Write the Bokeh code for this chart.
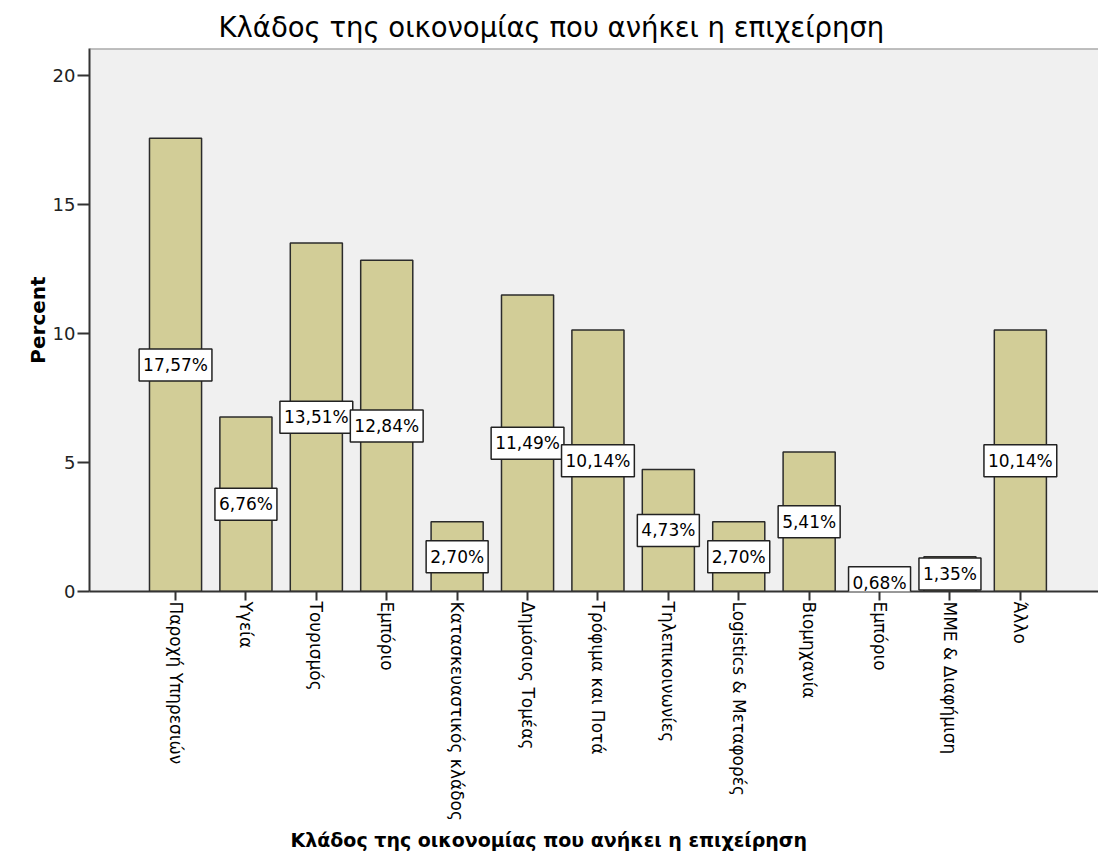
from bokeh.plotting import figure
from bokeh.models import Range1d, FixedTicker, Label, Title, Span
from bokeh.embed import file_html
from bokeh.resources import INLINE

# ---- data ----
categories = [
    "Παροχή Υπηρεσιών", "Υγεία", "Τουρισμός", "Εμπόριο",
    "Κατασκευαστικός κλάδος", "Δημόσιος Τομέας", "Τρόφιμα και Ποτά",
    "Τηλεπικοινωνίες", "Logistics & Μεταφορές", "Βιομηχανία",
    "Εμπόριο", "ΜΜΕ & Διαφήμιση", "Άλλο",
]
percents = [17.57, 6.76, 13.51, 12.84, 2.70, 11.49, 10.14, 4.73, 2.70, 5.41, 0.68, 1.35, 10.14]
y_ticks = [0, 5, 10, 15, 20]
title_text = "Κλάδος της οικονομίας που ανήκει η επιχείρηση"
y_title = "Percent"

positions = list(range(len(categories)))
y_top = 21.05

p = figure(width=1098, height=868, output_backend="svg", toolbar_location=None,
           x_range=Range1d(-1.222, 13.11), y_range=Range1d(0, y_top),
           min_border_left=89, min_border_right=0, min_border_top=48,
           min_border_bottom=277)

p.background_fill_color = "#f0f0f0"
p.border_fill_color = "white"
p.outline_line_color = None
p.grid.visible = False

p.vbar(x=positions, top=percents, width=0.74, bottom=0,
       fill_color="#d2cd97", line_color="#2b2b2b", line_width=1.5)

for xpos, v in zip(positions, percents):
    txt = f"{v:.2f}".replace(".", ",") + "%"
    p.add_layout(Label(x=xpos, y=v / 2, text=txt, text_align="center",
                       text_baseline="middle", text_font="DejaVu Sans",
                       text_font_size="17px", text_color="black",
                       background_fill_color="white",
                       border_line_color="#222222", border_line_width=1.5,
                       padding=(4, 6)))

p.add_layout(Span(location=y_top, dimension="width", line_color="#888888",
                  line_width=2))

# y axis
ya = p.yaxis[0]
ya.ticker = FixedTicker(ticks=y_ticks)
ya.minor_tick_line_color = None
ya.major_tick_in = 0
ya.major_tick_out = 12
ya.major_tick_line_width = 2
ya.major_tick_line_color = "#333333"
ya.axis_line_color = "#333333"
ya.axis_line_width = 2
ya.major_label_text_font = "DejaVu Sans"
ya.major_label_text_font_size = "18px"
ya.major_label_text_color = "#222222"
ya.major_label_standoff = 2
ya.axis_label = y_title
ya.axis_label_text_font = "DejaVu Sans"
ya.axis_label_text_font_style = "bold"
ya.axis_label_text_font_size = "20px"
ya.axis_label_text_color = "black"
ya.axis_label_standoff = 0

# x axis
xa = p.xaxis[0]
xa.ticker = FixedTicker(ticks=positions)
xa.major_label_overrides = {i: c for i, c in zip(positions, categories)}
xa.major_label_orientation = -1.5707963
xa.minor_tick_line_color = None
xa.major_tick_in = 0
xa.major_tick_out = 9
xa.major_tick_line_width = 2
xa.major_tick_line_color = "#333333"
xa.axis_line_color = "#333333"
xa.axis_line_width = 2
xa.major_label_text_font = "DejaVu Sans"
xa.major_label_text_font_size = "17px"
xa.major_label_text_color = "black"
xa.major_label_standoff = 1

top_title = Title(text=title_text, align="left", offset=129,
                  vertical_align="middle",
                  text_font="DejaVu Sans", text_font_size="27.5px",
                  text_font_style="normal", text_color="black", standoff=10)
p.add_layout(top_title, "above")

bottom_title = Title(text=title_text, align="left", offset=201,
                     text_font="DejaVu Sans", text_font_size="19px",
                     text_font_style="bold", text_color="black", standoff=6)
p.add_layout(bottom_title, "below")

open("out.html", "w").write(file_html(p, INLINE))
